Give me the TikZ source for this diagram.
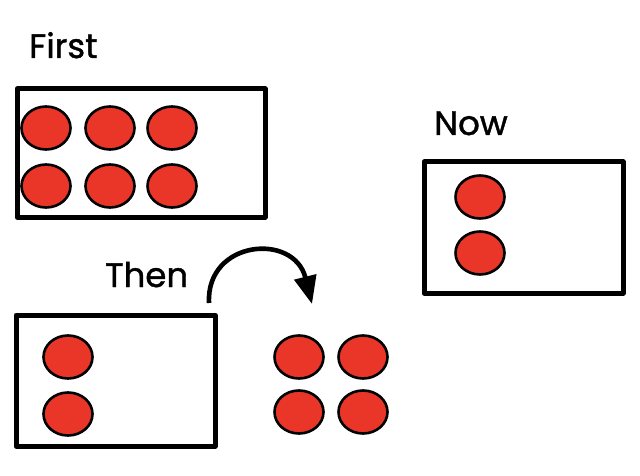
\documentclass[tikz,border=0pt]{standalone}
\usepackage{fontspec}
\setmainfont{Poppins}[FakeBold=1.2,AutoFakeBold=1.2]
\usetikzlibrary{arrows.meta,shapes.geometric}
\definecolor{dotred}{RGB}{233,54,40}
\tikzset{
  framebox/.style={draw=black,line width=5pt,line join=round},
  dot/.style={ellipse,draw=black,line width=2.6pt,fill=dotred,minimum width=49pt,minimum height=43pt,inner sep=0pt},
  lbl/.style={anchor=base west,font=\fontsize{34}{40}\selectfont\bfseries,inner sep=0pt},
  arr/.style={line width=4.6pt,-{Triangle[length=28pt,width=22pt]}}
}
\begin{document}
\begin{tikzpicture}[x=1pt,y=-1pt]
\useasboundingbox (0,0) rectangle (640,476);
% labels
\node[lbl] (first) at (29,58) {First};
\node[lbl] (now) at (434,135) {Now};
\node[lbl] (then) at (105,287) {Then};
% boxes
\draw[framebox] (17,89) rectangle (265,217);
\node (boxfirst) at (141,153) {};
\draw[framebox] (424,162) rectangle (623,293);
\node (boxnow) at (523,227) {};
\draw[framebox] (16,315) rectangle (215,446);
\node (boxthen) at (115,380) {};
% first dots
\node[dot] (f1) at (46,128) {};
\node[dot] (f2) at (110,128) {};
\node[dot] (f3) at (172,128) {};
\node[dot] (f4) at (46,186) {};
\node[dot] (f5) at (110,186) {};
\node[dot] (f6) at (172,186) {};
% now dots
\node[dot] (n1) at (480,197) {};
\node[dot] (n2) at (480,253) {};
% then dots
\node[dot] (t1) at (68,357) {};
\node[dot] (t2) at (68,414) {};
% moved dots
\node[dot] (m1) at (299,357) {};
\node[dot] (m2) at (363,357) {};
\node[dot] (m3) at (299,412) {};
\node[dot] (m4) at (363,412) {};
% arrow
\coordinate (as) at (209,303);
\coordinate (ae) at (312,304);
\draw[arr] (as) .. controls (206,240) and (294,232) .. (ae);
\end{tikzpicture}
\end{document}
